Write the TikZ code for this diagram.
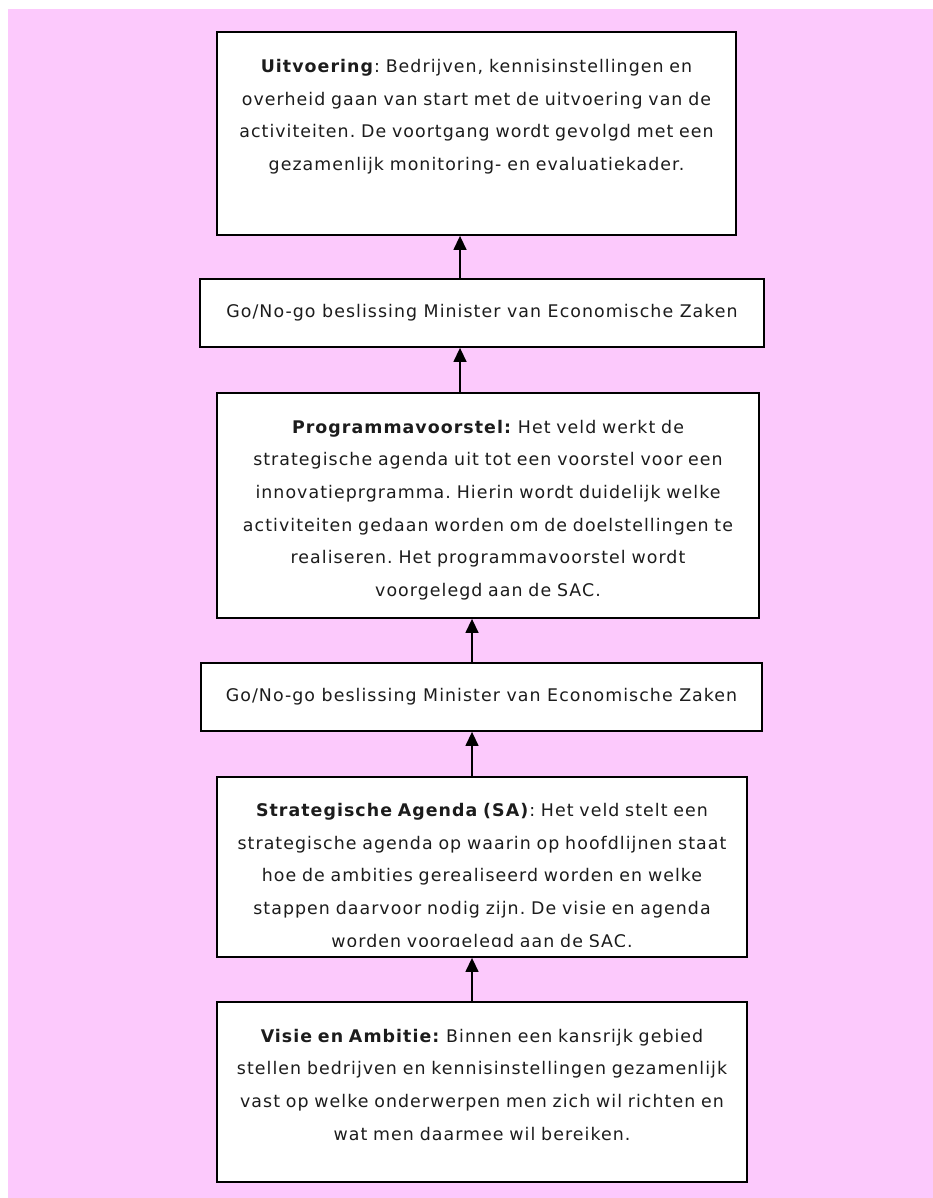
\documentclass[tikz,border=0pt]{standalone}
\usepackage{fontspec}
\setmainfont{DejaVu Sans}[LetterSpace=6]
\usetikzlibrary{arrows.meta, positioning}
\definecolor{bgpink}{RGB}{252,201,252}
\definecolor{inkgray}{RGB}{28,28,28}
\frenchspacing

\begin{document}
\begin{tikzpicture}[
    x=1pt, y=-1pt,
    >={Triangle[length=14pt, width=13pt]},
    frame/.style={draw=black, line width=1.8pt, fill=white, inner sep=0pt,
                  font=\fontsize{17.4}{32.7}\selectfont, text=inkgray},
    txt/.style={font=\fontsize{17.4}{32.7}\selectfont, text=inkgray,
                align=center, text width=520pt, inner sep=0pt, anchor=base},
    arr/.style={->, line width=1.4pt}
  ]
  \useasboundingbox (0,0) rectangle (933,1198);
  % Background
  \fill[bgpink] (8,9) rectangle (933,1198);

  % Boxes
  \node[frame, minimum width=519, minimum height=203] (uitv) at (476.5, 133.5) {};
  \node[frame, minimum width=564, minimum height=68] (go1) at (482, 313)
    {Go/No-go beslissing Minister van Economische Zaken};
  \node[frame, minimum width=542, minimum height=225] (prog) at (488, 505.5) {};
  \node[frame, minimum width=561, minimum height=68] (go2) at (481.5, 697)
    {Go/No-go beslissing Minister van Economische Zaken};
  \node[frame, minimum width=530, minimum height=180] (agenda) at (482, 867) {};
  \node[frame, minimum width=530, minimum height=180] (visie) at (482, 1092) {};

  % Box texts
  \node[txt] (uitvtxt) at (476.5, 72.5) {\textbf{Uitvoering}: Bedrijven, kennisinstellingen en\\
    overheid gaan van start met de uitvoering van de\\
    activiteiten. De voortgang wordt gevolgd met een\\
    gezamenlijk monitoring- en evaluatiekader.};
  \node[txt] (progtxt) at (488, 433) {\textbf{Programmavoorstel:} Het veld werkt de\\
    strategische agenda uit tot een voorstel voor een\\
    innovatieprgramma. Hierin wordt duidelijk welke\\
    activiteiten gedaan worden om de doelstellingen te\\
    realiseren. Het programmavoorstel wordt\\
    voorgelegd aan de SAC.};
  \begin{scope}
    \clip (217,777) rectangle (747,946.5);
    \node[txt] (agendatxt) at (482, 816.5) {\textbf{Strategische Agenda (SA)}: Het veld stelt een\\
      strategische agenda op waarin op hoofdlijnen staat\\
      hoe de ambities gerealiseerd worden en welke\\
      stappen daarvoor nodig zijn. De visie en agenda\\
      worden voorgelegd aan de SAC.};
  \end{scope}
  \node[txt] (visietxt) at (482, 1042) {\textbf{Visie en Ambitie:} Binnen een kansrijk gebied\\
    stellen bedrijven en kennisinstellingen gezamenlijk\\
    vast op welke onderwerpen men zich wil richten en\\
    wat men daarmee wil bereiken.};

  % Arrows
  \draw[arr] ([xshift=-22]go1.north) -- ([xshift=-22]go1.north |- uitv.south);
  \draw[arr] ([xshift=-28]prog.north) -- ([xshift=-28]prog.north |- go1.south);
  \draw[arr] ([xshift=-9.5]go2.north) -- ([xshift=-9.5]go2.north |- prog.south);
  \draw[arr] ([xshift=-10]agenda.north) -- ([xshift=-10]agenda.north |- go2.south);
  \draw[arr] ([xshift=-10]visie.north) -- ([xshift=-10]visie.north |- agenda.south);
\end{tikzpicture}
\end{document}
